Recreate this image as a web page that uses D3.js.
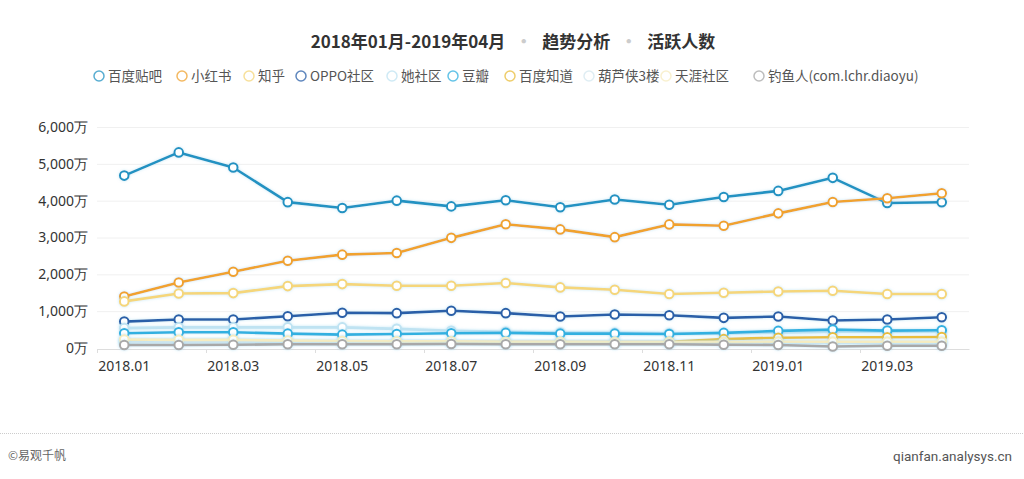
<!DOCTYPE html>
<html><head><meta charset="utf-8">
<script src="https://cdn.jsdelivr.net/npm/d3@7/dist/d3.min.js"></script>
<style>body{margin:0;background:#fff;}svg{display:block;font-family:"Noto Sans CJK SC","Noto Sans",sans-serif;}</style>
</head><body><svg id="c" width="1024" height="479"></svg>
<script>
const months = ["2018.01","2018.02","2018.03","2018.04","2018.05","2018.06","2018.07","2018.08","2018.09","2018.10","2018.11","2018.12","2019.01","2019.02","2019.03","2019.04"];
const seriesNames = ["百度贴吧","小红书","知乎","OPPO社区","她社区","豆瓣","百度知道","葫芦侠3楼","天涯社区","钓鱼人(com.lchr.diaoyu)"];
const seriesColors = ["#2192c2","#f0a22e","#f5d67a","#2a5fa8","#bfe3f2","#31b0e0","#e9bd3b","#d5e8f0","#f7ecc0","#a8a8a8"];
const tieba = [4680,5310,4900,3960,3800,4000,3845,4010,3820,4030,3890,4100,4265,4620,3935,3955];
const xiaohongshu = [1400,1780,2070,2370,2535,2580,2990,3360,3220,3010,3355,3320,3655,3965,4065,4200];
const zhihu = [1265,1480,1490,1680,1735,1690,1690,1765,1645,1580,1465,1500,1535,1555,1465,1465];
const oppo = [717,772,772,864,955,946,1010,946,855,910,890,818,855,745,772,836];
const tashequ = [540,560,560,560,560,520,470,440,420,410,400,400,420,440,440,450];
const douban = [400,428,428,390,363,382,400,410,390,390,382,410,464,500,472,482];
const zhidao = [200,200,210,170,160,160,160,160,160,160,170,240,280,290,290,300];
const huluxia = [160,170,170,170,160,160,150,150,150,150,150,160,160,150,150,150];
const tianya = [230,220,220,200,190,180,180,170,170,160,160,160,170,170,170,170];
const diaoyu = [80,80,90,100,100,100,110,100,100,100,100,90,80,40,60,60];
const seriesValues = [tieba,xiaohongshu,zhihu,oppo,tashequ,douban,zhidao,huluxia,tianya,diaoyu];
const yTicks = [0,1000,2000,3000,4000,5000,6000];

const svg = d3.select("#c");
const L = 97, R = 969, T = 127, B = 348;
const x = d3.scaleBand().domain(months).range([L,R]);
const y = d3.scaleLinear().domain([0,6000]).range([B,T]);

// title
const title = svg.append("text").attr("x",513).attr("y",48).attr("text-anchor","middle")
  .attr("font-size",17).attr("font-weight","bold").attr("fill","#333");
title.append("tspan").text("2018年01月-2019年04月");
title.append("tspan").attr("fill","#ccc").attr("dx",10).text("·");
title.append("tspan").attr("dx",10).text("趋势分析");
title.append("tspan").attr("fill","#ccc").attr("dx",10).text("·");
title.append("tspan").attr("dx",10).text("活跃人数");

// legend
const legendX = [99,182,249,301,392,453,510,589,666,759];
const lg = svg.append("g");
seriesNames.forEach((n,i)=>{
  const g = lg.append("g").attr("transform",`translate(${legendX[i]},76)`);
  g.append("circle").attr("r",5).attr("fill","#fff").attr("stroke",seriesColors[i]).attr("stroke-width",1.5).attr("opacity",0.75);
  g.append("text").attr("x",9).attr("y",5).attr("font-size",13.5).attr("fill","#555").text(n);
});

// grid
svg.append("g").selectAll("line").data(yTicks.filter(d=>d>0)).join("line")
  .attr("x1",L).attr("x2",R).attr("y1",d=>y(d)+0.5).attr("y2",d=>y(d)+0.5)
  .attr("stroke","#f0f0f0");

// y axis
const ya = svg.append("g").attr("transform",`translate(${L},0)`)
  .call(d3.axisLeft(y).tickValues(yTicks).tickSize(0).tickPadding(9).tickFormat(d=>d3.format(",")(d)+"万"));
ya.select(".domain").remove();
ya.selectAll("text").attr("font-size",14).attr("fill","#333").attr("font-family","'Noto Sans',sans-serif");

// x axis
const xa = svg.append("g").attr("transform",`translate(0,${B+1})`)
  .call(d3.axisBottom(x).tickValues(months.filter((d,i)=>i%2===0)).tickSize(0).tickPadding(12));
xa.select(".domain").attr("stroke","#ddd");
xa.selectAll("text").attr("font-size",14).attr("fill","#333").attr("font-family","'Noto Sans',sans-serif");
svg.append("g").selectAll("line").data(months.filter((d,i)=>i%2===0)).join("line")
  .attr("x1",d=>Math.round(x(d))+0.5).attr("x2",d=>Math.round(x(d))+0.5).attr("y1",B+1).attr("y2",B+5).attr("stroke","#ddd");

// glow filter
const defs = svg.append("defs");
const f = defs.append("filter").attr("id","glow").attr("x","-20%").attr("y","-50%").attr("width","140%").attr("height","200%");
f.append("feDropShadow").attr("dx",0).attr("dy",0).attr("stdDeviation",1.5).attr("flood-color","#9fd8f0").attr("flood-opacity",0.6);

const cx = d=>x(d)+x.bandwidth()/2;
const line = d3.line().x((v,i)=>cx(months[i])).y(v=>y(v));
seriesValues.forEach((vals,si)=>{
  const g = svg.append("g").attr("filter","url(#glow)");
  g.append("path").attr("d",line(vals)).attr("fill","none").attr("stroke",seriesColors[si]).attr("stroke-width",2.6).attr("stroke-linejoin","round");
  g.selectAll("circle").data(vals).join("circle")
    .attr("cx",(v,i)=>cx(months[i])).attr("cy",v=>y(v)).attr("r",4.3)
    .attr("fill","#fff").attr("stroke",seriesColors[si]).attr("stroke-width",2);
});

// footer
svg.append("line").attr("x1",0).attr("x2",1024).attr("y1",433.5).attr("y2",433.5).attr("stroke","#ccc").attr("stroke-dasharray","1,1");
svg.append("text").attr("x",8).attr("y",460).attr("font-size",12).attr("fill","#666").text("©易观千帆");
svg.append("text").attr("x",1012).attr("y",461).attr("text-anchor","end").attr("font-size",13.5).attr("fill","#555").attr("font-family","'Liberation Sans Narrow','Roboto',sans-serif").text("qianfan.analysys.cn");
</script></body></html>
